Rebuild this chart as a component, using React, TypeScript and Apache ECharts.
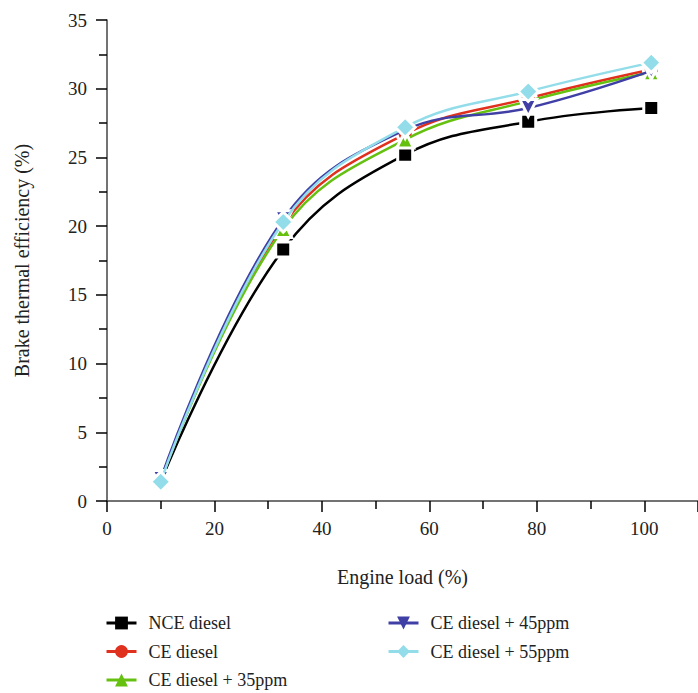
import React, { useEffect, useRef } from "react";
import * as echarts from "echarts";

const loads = [10, 32.8, 55.5, 78.4, 101.3];
const nceDiesel = [1.4, 18.3, 25.2, 27.6, 28.6];
const ceDiesel = [1.5, 20.1, 26.7, 29.3, 31.4];
const ce35 = [1.5, 19.8, 26.3, 29.1, 31.2];
const ce45 = [1.6, 20.5, 27.0, 28.6, 31.3];
const ce55 = [1.4, 20.3, 27.2, 29.8, 31.9];

const seriesNames = [
  "NCE diesel",
  "CE diesel",
  "CE diesel + 35ppm",
  "CE diesel + 45ppm",
  "CE diesel + 55ppm",
];
const seriesValues = [nceDiesel, ceDiesel, ce35, ce45, ce55];
const colors = ["#000000", "#e0301e", "#66c010", "#3f3fa6", "#92dde9"];
const symbols = ["rect", "circle", "triangle", "path://M0,0L10,0L5,10Z", "diamond"];
const symbolSizes = [15, 16, 17, 17, 20];

const FONT = "'Liberation Serif', 'DejaVu Serif', serif";

export default function App() {
  const ref = useRef<HTMLDivElement>(null);
  useEffect(() => {
    if (!ref.current) return;
    const chart = echarts.init(ref.current, null, { renderer: "svg" });
    const series = seriesNames.map((name, i) => ({
      name,
      type: "line",
      smooth: 0.4,
      data: loads.map((x, j) => [x, seriesValues[i][j]]),
      symbol: symbols[i],
      symbolSize: symbolSizes[i],
      showAllSymbol: true,
      lineStyle: { color: colors[i], width: 2.5 },
      itemStyle: { color: colors[i], borderColor: "#ffffff", borderWidth: 3 },
      z: 2 + i,
    }));
    const legendText = {
      fontFamily: FONT,
      fontSize: 18,
      lineHeight: 18,
      color: "#222",
      padding: [0, 0, 0, 7],
    };
    const legendCommon = {
      orient: "vertical",
      top: 614,
      padding: 0,
      itemWidth: 30,
      itemHeight: 16,
      itemGap: 10.5,
      textStyle: legendText,
      itemStyle: { borderWidth: 0 },
      lineStyle: { width: 3 },
    };
    chart.setOption({
      animation: false,
      textStyle: { fontFamily: FONT },
      grid: { left: 107, top: 20, right: 0, bottom: 192 },
      xAxis: {
        type: "value",
        min: 0,
        max: 110,
        interval: 20,
        name: "Engine load (%)",
        nameLocation: "middle",
        nameGap: 66,
        nameTextStyle: { fontFamily: FONT, fontSize: 20, color: "#222" },
        axisLine: { show: true, lineStyle: { color: "#444", width: 1.5 } },
        axisTick: { show: true, length: 11, lineStyle: { color: "#000", width: 1.5 } },
        minorTick: { show: true, splitNumber: 2, length: 8, lineStyle: { color: "#000", width: 1.5 } },
        splitLine: { show: false },
        axisLabel: {
          fontFamily: FONT,
          fontSize: 19,
          color: "#222",
          margin: 18,
          showMaxLabel: false,
          formatter: (v: number) => (v > 100 ? "" : String(v)),
        },
      },
      yAxis: {
        type: "value",
        min: 0,
        max: 35,
        interval: 5,
        name: "Brake thermal efficiency (%)",
        nameLocation: "middle",
        nameGap: 75,
        nameTextStyle: { fontFamily: FONT, fontSize: 20, color: "#222" },
        axisLine: { show: true, lineStyle: { color: "#444", width: 1.5 } },
        axisTick: { show: true, length: 11, lineStyle: { color: "#000", width: 1.5 } },
        minorTick: { show: true, splitNumber: 2, length: 8, lineStyle: { color: "#000", width: 1.5 } },
        splitLine: { show: false },
        axisLabel: { fontFamily: FONT, fontSize: 19, color: "#222", margin: 20 },
      },
      legend: [
        { ...legendCommon, data: seriesNames.slice(0, 3), left: 105 },
        { ...legendCommon, data: seriesNames.slice(3), left: 387 },
      ],
      series,
    });
    return () => chart.dispose();
  }, []);
  return (
    <div
      ref={ref}
      style={{ position: "absolute", left: 0, top: 0, width: 698, height: 693 }}
    />
  );
}
